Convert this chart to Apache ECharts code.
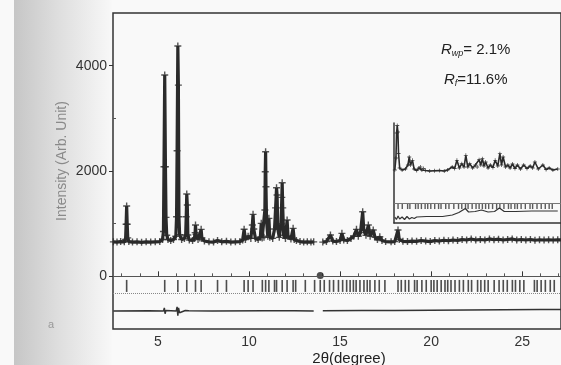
<!DOCTYPE html>
<html>
<head>
<meta charset="utf-8">
<script src="https://cdn.jsdelivr.net/npm/echarts@6/dist/echarts.min.js"></script>
<style>
html,body{margin:0;padding:0;background:#f9f9f9;}
#chart{width:561px;height:365px;}
</style>
</head>
<body>
<div id="chart"></div>
<script>
// main pattern, 2theta (deg) and observed counts; null = excluded region
const profileAngle = [2.55,2.75,2.95,3.15,3.22,3.25,3.28,3.31,3.34,3.40,3.6,3.85,4.1,4.35,4.6,4.85,5.1,5.25,
  5.30,5.33,5.37,5.41,5.44,5.48,5.55,5.7,5.85,5.98,6.02,6.05,6.09,6.12,6.15,6.19,6.3,6.45,
  6.52,6.55,6.58,6.61,6.64,6.72,6.9,7.0,7.04,7.06,7.09,7.2,7.3,7.37,7.41,7.55,7.8,8.05,8.27,8.5,8.76,9.0,9.25,9.5,
  9.65,9.73,9.8,9.95,10.1,10.18,10.22,10.26,10.35,10.5,10.62,10.67,10.72,10.82,10.87,10.89,10.91,10.93,10.96,
  11.03,11.09,11.14,11.3,11.40,11.46,11.51,11.54,11.58,11.66,11.76,11.80,11.82,11.85,11.9,12.0,12.09,12.14,
  12.3,12.42,12.48,12.6,12.8,13.0,13.2,13.4,13.55,13.8,14.05,14.25,14.47,14.6,14.8,15.0,15.1,15.2,15.4,15.6,
  15.75,15.9,16.0,16.12,16.24,16.3,16.42,16.55,16.65,16.82,16.92,17.05,17.18,17.3,17.5,17.8,18.0,18.18,18.25,
  18.45,18.7,18.95,19.2,19.45,19.7,19.95,20.2,20.45,20.7,20.95,21.2,21.45,21.7,21.95,22.2,22.45,22.7,22.95,
  23.2,23.45,23.7,23.95,24.2,24.45,24.7,24.95,25.2,25.45,25.7,25.95,26.2,26.45,26.7,26.95,27.2];
const obsIntensity = [655,650,660,655,700,990,1335,990,730,660,650,655,645,655,650,655,660,700,
  850,2080,3822,2080,1120,780,700,680,700,760,1132,2385,4372,3630,1132,790,700,720,
  784,1132,1563,1354,784,690,680,720,830,974,800,700,730,892,730,670,655,650,680,655,665,650,655,660,
  690,895,700,760,720,974,1177,900,720,700,740,1006,730,740,1259,1986,2366,1701,1069,
  760,1101,740,720,900,1300,1682,1543,900,740,1000,1500,1777,1300,780,720,1069,760,
  710,911,700,680,660,650,655,650,655,null,650,660,784,670,660,680,816,690,680,720,
  760,892,760,830,1227,880,780,974,760,879,740,700,752,680,660,655,660,879,700,
  665,660,670,665,680,670,660,680,670,685,675,690,680,700,690,710,690,700,690,
  710,695,705,690,700,710,690,700,690,700,685,695,690,695,690,695,690];

// difference curve (obs - calc, offset)
const diffAngle = [2.55,4.5,5.3,5.35,5.39,5.43,5.5,6.0,6.05,6.09,6.13,6.18,6.25,6.5,6.6,6.7,8.0,10.85,10.9,10.95,11.0,
  11.5,11.55,12.5,13.55,13.8,14.05,16.2,16.3,18.0,20.0,22.0,24.0,26.0,27.2];
const diffValue = [-660,-655,-660,-600,-710,-650,-660,-660,-580,-745,-600,-690,-660,-650,-675,-655,-660,-655,-625,-690,-655,
  -655,-640,-655,-660,null,-655,-650,-630,-650,-645,-640,-635,-630,-628];

// Bragg reflection positions
const reflAngle = [3.28,5.37,6.09,6.58,7.06,7.37,8.27,8.76,9.73,9.95,10.22,10.73,10.91,11.09,11.40,11.51,11.82,12.09,
  12.42,12.56,13.09,13.60,13.91,14.13,14.42,14.64,14.91,15.14,15.36,15.55,15.73,15.88,16.09,16.31,16.49,16.64,
  16.91,17.15,17.46,18.18,18.36,18.58,18.77,19.09,19.23,19.49,19.73,20.00,20.15,20.33,20.55,20.76,20.91,21.09,
  21.31,21.55,21.77,22.04,22.22,22.55,22.73,22.94,23.13,23.46,23.73,23.96,24.18,24.46,24.63,24.87,25.09,25.67,
  25.82,26.04,26.27,26.54,26.76];
const markedRefl = [13.91];

// inset (high angle part, relative position 0-100)
const insetPos = [0.5,1.2,1.6,2.0,2.4,2.8,3.5,5,7,8.6,9.4,10.2,11.4,12.4,14,15.4,16.3,17.2,18.2,19.5,22,25,28,31,33,
  35.9,37.4,38.8,40.3,41.8,43.2,44.3,45.5,46.7,48.5,50.2,51.3,52.5,53.5,54.5,55.5,56.5,58,59.4,61,62.4,64,65.3,66.3,
  67.3,68.8,70.2,71.6,73.1,74.6,76.1,78,80,82,84,85.5,86.9,89,91.8,93.8,95.7,98,101];
const insetObs = [660,900,1400,1550,1420,990,700,660,680,760,920,760,854,680,650,700,720,660,690,650,640,645,650,640,660,
  720,690,854,700,787,720,954,720,787,700,760,720,867,760,887,740,820,700,760,710,854,740,987,760,
  920,720,760,700,780,690,760,680,760,690,740,700,820,680,760,670,700,660,680];
const insetDiffPos = [0.5,1.5,2.5,3.5,5,6.5,8,9.5,11,12.5,14,20,30,36,40,44,46,50,54,58,62,65,68,75,85,95,101];
const insetDiffVal = [-280,-330,-260,-320,-280,-330,-270,-320,-290,-310,-280,-270,-270,-240,-190,-110,-180,-170,-140,-180,-170,-100,-170,-170,-160,-160,-160];
const insetRefl = [2.5,5.1,8.4,9.8,13.3,14.9,16.9,19.2,20.8,22.7,25.1,27.5,29.0,31.9,33.9,36.9,39.8,41.8,44.1,45.7,48.2,
  50.6,52.5,54.5,56.5,58.4,60.8,63.3,65.3,67.8,70.6,72.2,74.5,76.1,78.4,81.0,83.9,85.5,88.2,90.8,93.3,95.7,97.6];

const xMajor = [5,10,15,20,25];
const xMinor = [3,4,6,7,8,9,11,12,13,14,16,17,18,19,21,22,23,24,26,27];
const yMajor = [0,2000,4000];
const yMinor = [1000,3000];

const ink = '#2a2a2a';
const crossSymbol = 'path://M0,4L10,4L10,6L0,6Z M4,0L6,0L6,10L4,10Z';
const font = 'Liberation Sans, Arial, sans-serif';

function zip(xs, ys) {
  return xs.map((x, i) => [x, ys[i] == null ? '-' : ys[i]]);
}

const chart = echarts.init(document.getElementById('chart'));

const option = {
  backgroundColor: '#f9f9f9',
  animation: false,
  textStyle: { fontFamily: font },
  grid: [
    { left: 113, top: 13, width: 451, height: 316, show: true, borderColor: '#333', borderWidth: 1.5, backgroundColor: 'transparent' },
    { left: 394, top: 123, width: 175, height: 100 }
  ],
  xAxis: [
    {
      gridIndex: 0, type: 'value', position: 'bottom', min: 2.53, max: 27.13,
      axisLine: { show: false },
      axisTick: { inside: true, length: 5, customValues: xMajor, lineStyle: { color: '#333' } },
      axisLabel: { customValues: xMajor, color: '#333', fontSize: 14, margin: 6, formatter: v => String(v) },
      splitLine: { show: false }
    },
    {
      gridIndex: 0, type: 'value', position: 'bottom', min: 2.53, max: 27.13,
      axisLine: { show: false },
      axisTick: { inside: true, length: 3, customValues: xMinor, lineStyle: { color: '#555' } },
      axisLabel: { show: false },
      splitLine: { show: false }
    },
    {
      gridIndex: 1, type: 'value', position: 'bottom', min: 0, max: 103,
      axisLine: { show: true, onZero: false, lineStyle: { color: '#333', width: 1.5 } },
      axisTick: { show: false }, axisLabel: { show: false }, splitLine: { show: false }
    }
  ],
  yAxis: [
    {
      gridIndex: 0, type: 'value', position: 'left', min: -1000, max: 5000,
      axisLine: { show: false },
      axisTick: { show: true, length: 4, customValues: yMajor, lineStyle: { color: '#333' } },
      axisLabel: { customValues: yMajor, color: '#333', fontSize: 14, margin: 6, formatter: v => String(v) },
      splitLine: { show: false }
    },
    {
      gridIndex: 0, type: 'value', position: 'left', min: -1000, max: 5000,
      axisLine: { show: false },
      axisTick: { show: true, inside: true, length: 3, customValues: yMinor, lineStyle: { color: '#555' } },
      axisLabel: { show: false },
      splitLine: { show: false }
    },
    {
      gridIndex: 1, type: 'value', position: 'left', min: -400, max: 1600,
      axisLine: { show: true, onZero: false, lineStyle: { color: '#333', width: 1.5 } },
      axisTick: { show: false }, axisLabel: { show: false }, splitLine: { show: false }
    }
  ],
  series: [
    {
      name: 'calc', type: 'line', xAxisIndex: 0, yAxisIndex: 0,
      data: zip(profileAngle, obsIntensity), showSymbol: false, connectNulls: false,
      lineStyle: { color: ink, width: 3.2 }, z: 3
    },
    {
      name: 'obs', type: 'scatter', xAxisIndex: 0, yAxisIndex: 0,
      data: zip(profileAngle, obsIntensity).filter(p => p[1] !== '-'),
      symbol: crossSymbol, symbolSize: 7, itemStyle: { color: ink }, z: 4
    },
    {
      name: 'reflections', type: 'scatter', xAxisIndex: 0, yAxisIndex: 0,
      data: reflAngle.map(a => [a, -182]),
      symbol: 'rect', symbolSize: [1.6, 12], itemStyle: { color: '#222' },
      markLine: {
        silent: true, symbol: 'none', label: { show: false },
        data: [
          { yAxis: 0, lineStyle: { color: '#555', width: 1, type: 'solid' } },
          { yAxis: -320, lineStyle: { color: '#888', width: 1, type: 'dotted' } }
        ]
      }
    },
    {
      name: 'marked', type: 'scatter', xAxisIndex: 0, yAxisIndex: 0,
      data: markedRefl.map(a => [a, 15]),
      symbol: 'circle', symbolSize: 7, itemStyle: { color: '#222' }
    },
    {
      name: 'diff', type: 'line', xAxisIndex: 0, yAxisIndex: 0,
      data: zip(diffAngle, diffValue), showSymbol: false, connectNulls: false,
      lineStyle: { color: '#333', width: 1.5 }
    },
    {
      name: 'inset calc', type: 'line', xAxisIndex: 2, yAxisIndex: 2,
      data: zip(insetPos, insetObs), showSymbol: false,
      lineStyle: { color: ink, width: 1.6 }
    },
    {
      name: 'inset obs', type: 'scatter', xAxisIndex: 2, yAxisIndex: 2,
      data: zip(insetPos, insetObs),
      symbol: crossSymbol, symbolSize: 4, itemStyle: { color: ink }
    },
    {
      name: 'inset reflections', type: 'scatter', xAxisIndex: 2, yAxisIndex: 2,
      data: insetRefl.map(a => [a, -66]),
      symbol: 'rect', symbolSize: [1.4, 5.5], itemStyle: { color: '#333' },
      markLine: {
        silent: true, symbol: 'none', label: { show: false },
        data: [{ yAxis: 0, lineStyle: { color: '#777', width: 1, type: 'solid' } }]
      }
    },
    {
      name: 'inset diff', type: 'line', xAxisIndex: 2, yAxisIndex: 2,
      data: zip(insetDiffPos, insetDiffVal), showSymbol: false,
      lineStyle: { color: '#333', width: 1.2 }
    }
  ],
  graphic: [
    {
      type: 'rect', z: -10, silent: true,
      shape: { x: 14, y: 0, width: 98, height: 365 },
      style: {
        fill: new echarts.graphic.LinearGradient(0, 0, 1, 0, [
          { offset: 0, color: '#c6c6c6' },
          { offset: 0.45, color: '#dedede' },
          { offset: 1, color: '#f8f8f8' }
        ])
      }
    },
    {
      type: 'text', x: 62, y: 161, rotation: Math.PI / 2,
      style: {
        text: 'Intensity (Arb. Unit)', fill: '#8a8a8a', fontSize: 14,
        fontFamily: font, align: 'center', verticalAlign: 'middle'
      }
    },
    {
      type: 'text', x: 349, y: 359,
      style: {
        text: '2θ(degree)', fill: '#222', fontSize: 15,
        fontFamily: font, align: 'center', verticalAlign: 'middle'
      }
    },
    {
      type: 'text', x: 51, y: 325,
      style: { text: 'a', fill: '#999', fontSize: 11, align: 'center', verticalAlign: 'middle' }
    },
    {
      type: 'text', x: 441, y: 50,
      style: {
        text: '{r|R}{s|wp}{n|= 2.1%}', verticalAlign: 'middle',
        rich: {
          r: { fontSize: 15, fontStyle: 'italic', fill: '#222', fontFamily: font },
          s: { fontSize: 9, fontStyle: 'italic', fill: '#222', verticalAlign: 'bottom', padding: [6, 0, 0, 0], fontFamily: font },
          n: { fontSize: 15, fill: '#222', fontFamily: font }
        }
      }
    },
    {
      type: 'text', x: 444, y: 80,
      style: {
        text: '{r|R}{s|f}{n|=11.6%}', verticalAlign: 'middle',
        rich: {
          r: { fontSize: 15, fontStyle: 'italic', fill: '#222', fontFamily: font },
          s: { fontSize: 9, fontStyle: 'italic', fill: '#222', verticalAlign: 'bottom', padding: [6, 0, 0, 0], fontFamily: font },
          n: { fontSize: 15, fill: '#222', fontFamily: font }
        }
      }
    }
  ]
};

chart.setOption(option);
</script>
</body>
</html>
